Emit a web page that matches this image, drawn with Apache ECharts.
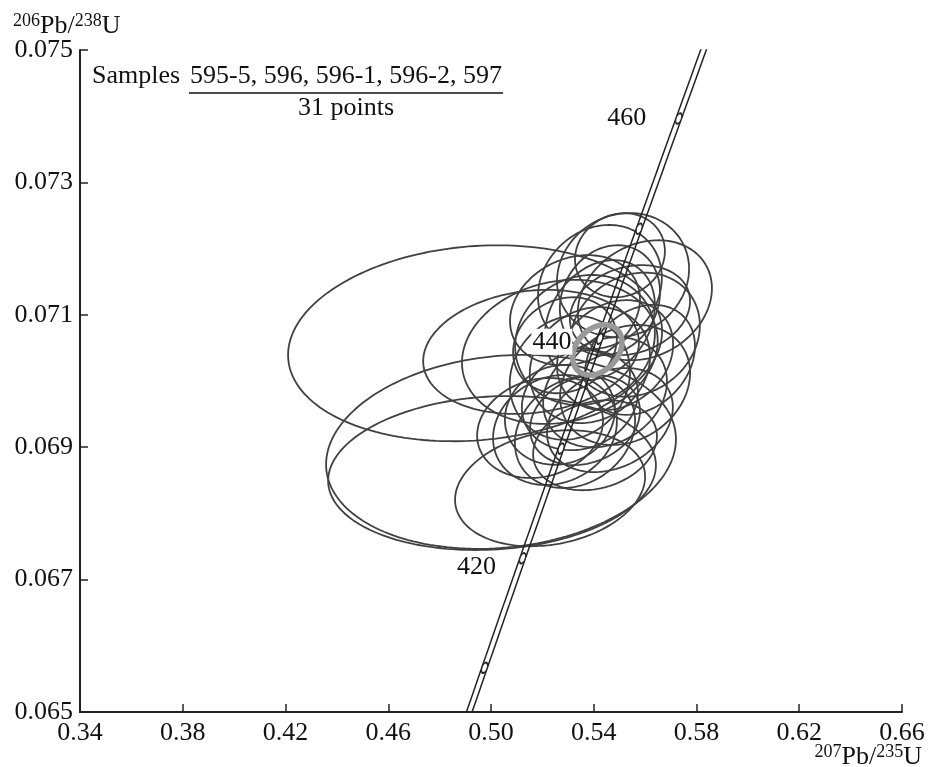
<!DOCTYPE html>
<html><head><meta charset="utf-8">
<script src="https://cdn.jsdelivr.net/npm/echarts@6/dist/echarts.min.js"></script>
<style>html,body{margin:0;padding:0;background:#fff}#c{width:928px;height:767px}</style>
</head><body><div id="c"></div>
<script>
// axis ranges / ticks
const xMin = 0.34, xMax = 0.66, xStep = 0.04;
const yMin = 0.065, yMax = 0.075, yStep = 0.002;
// decay constants (1/yr) and concordia ages (Ma)
const lambda238 = 1.55125e-10, lambda235 = 9.8485e-10;
const concordiaAgeRange = [400, 470];
const markerAges = [410, 420, 430, 440, 450, 460];
const labelledAges = [420, 440, 460];
const bandHalfWidth = 0.0011;
// error ellipses: centre 207Pb/235U, centre 206Pb/238U, half-width, half-height, correlation
const ellX  = [0.4938,0.5039,0.5004,0.5156,0.5268,0.5230,0.5514,0.5424,0.5599,0.5560,0.5522,0.5463,0.5444,0.5249,0.5327,0.5268,0.5366,0.5327,0.5385,0.5424,0.5307,0.5483,0.5346,0.5405,0.5288,0.5463,0.5541,0.5191,0.5502,0.5366,0.5580];
const ellY  = [0.07057,0.06893,0.06861,0.07044,0.07044,0.06838,0.07160,0.07142,0.07122,0.07070,0.06994,0.06941,0.06983,0.06926,0.06923,0.06949,0.07062,0.07107,0.07024,0.07092,0.07005,0.07039,0.06971,0.06903,0.07054,0.07122,0.07107,0.06929,0.07190,0.06941,0.07032];
const ellSX = [0.0728,0.0681,0.0638,0.0420,0.0381,0.0370,0.0257,0.0241,0.0261,0.0253,0.0253,0.0245,0.0241,0.0241,0.0234,0.0214,0.0272,0.0253,0.0234,0.0214,0.0234,0.0226,0.0226,0.0241,0.0202,0.0195,0.0234,0.0245,0.0175,0.0214,0.0214];
const ellSY = [0.00148,0.001465,0.001163,0.000937,0.001088,0.000876,0.000937,0.000937,0.000906,0.000937,0.000906,0.000786,0.000831,0.000831,0.000846,0.000755,0.000982,0.000831,0.000876,0.000906,0.000937,0.000831,0.000755,0.00068,0.000725,0.000831,0.00068,0.000755,0.000634,0.00068,0.000831];
const ellRho = [0.12,0.13,0.10,0.15,0.15,0.20,0.10,0.15,0.20,0.15,0.20,0.25,0.20,0.15,0.20,0.10,0.10,0.20,0.15,0.25,0.10,0.20,0.15,0.20,0.15,0.15,0.20,0.15,0.10,0.20,0.25];
// concordia age ellipse
const concX = 0.5414, concY = 0.07047, concSX = 0.0096, concSY = 0.00038, concRho = 0.3;
// texts
const yTitle = ['206','Pb/','238','U'];
const xTitle = ['207','Pb/','235','U'];
const noteLead = 'Samples';
const noteNum = '595-5, 596, 596-1, 596-2, 597';
const noteDen = '31 points';

function ellipsePts(cx, cy, sx, sy, rho) {
  const pts = [], n = 180, s = Math.sqrt(1 - rho * rho);
  for (let i = 0; i <= n; i++) {
    const t = 2 * Math.PI * i / n;
    pts.push([cx + sx * Math.cos(t), cy + sy * (rho * Math.cos(t) + s * Math.sin(t))]);
  }
  return pts;
}
function concordia(age) {
  const t = age * 1e6;
  return [Math.exp(lambda235 * t) - 1, Math.exp(lambda238 * t) - 1];
}
const FONT = "'Liberation Serif','Times New Roman',serif";
const FS = 26;
const series = [];
for (let i = 0; i < ellX.length; i++) {
  series.push({type:'line', data: ellipsePts(ellX[i], ellY[i], ellSX[i], ellSY[i], ellRho[i]),
    showSymbol:false, symbol:'none', silent:true, z:2,
    lineStyle:{color:'#404040', width:1.8}});
}
const cPts = [];
for (let a = concordiaAgeRange[0]; a <= concordiaAgeRange[1]; a += 0.5) cPts.push(concordia(a));
[-1, 1].forEach(sg => series.push({type:'line', symbol:'none', z:3, silent:true,
  data: cPts.map(p => [p[0] + sg * bandHalfWidth, p[1]]),
  lineStyle:{color:'#222', width:1.5}}));
series.push({type:'line', data: ellipsePts(concX, concY, concSX, concSY, concRho), symbol:'none', z:4,
  silent:true, lineStyle:{color:'#999', width:5.5}});
series.push({type:'scatter', z:5, symbol:'circle', symbolSize:[5,11], symbolRotate:-20, silent:true,
  itemStyle:{color:'#fff', borderColor:'#222', borderWidth:1.4, opacity:1},
  data: markerAges.map(a => concordia(a))});
series.push({type:'scatter', z:6, symbolSize:1, silent:true,
  itemStyle:{opacity:1, color:'rgba(0,0,0,0)'},
  data: labelledAges.map(a => ({value: concordia(a),
    label:{show:true, position:'inside', offset: a === 420 ? [-46, 9] : (a === 440 ? [-48, 3] : [-52, 0]),
      formatter: String(a), fontFamily: FONT, fontSize: FS, color:'#111',
      backgroundColor: a === 440 ? '#fff' : 'transparent', padding:[0,1]}}))
});

const chart = echarts.init(document.getElementById('c'), null, {renderer:'canvas'});
chart.setOption({
  animation:false,
  backgroundColor:'#fff',
  grid:{left:80, right:26, top:50, bottom:55},
  xAxis:{type:'value', min:xMin, max:xMax, interval:xStep,
    axisLine:{lineStyle:{color:'#222', width:2}},
    axisTick:{inside:true, length:8, lineStyle:{color:'#222', width:1.5}},
    splitLine:{show:false},
    axisLabel:{margin:8, fontFamily:FONT, fontSize:FS, color:'#111', formatter:v => v.toFixed(2)}},
  yAxis:{type:'value', min:yMin, max:yMax, interval:yStep,
    axisLine:{lineStyle:{color:'#222', width:2}},
    axisTick:{inside:true, length:8, lineStyle:{color:'#222', width:1.5}},
    splitLine:{show:false},
    axisLabel:{margin:7, fontFamily:FONT, fontSize:FS, color:'#111', formatter:v => v.toFixed(3)}},
  graphic:[
    {type:'text', left:13, top:12, style:{fontFamily:FONT, fill:'#111',
      text:'{s|'+yTitle[0]+'}{m|'+yTitle[1]+'}{s|'+yTitle[2]+'}{m|'+yTitle[3]+'}',
      rich:{s:{fontSize:18, fontFamily:FONT, fill:'#111', padding:[0,0,10,0]}, m:{fontSize:FS, fontFamily:FONT, fill:'#111'}}}},
    {type:'text', right:6, top:743, style:{fontFamily:FONT, fill:'#111',
      text:'{s|'+xTitle[0]+'}{m|'+xTitle[1]+'}{s|'+xTitle[2]+'}{m|'+xTitle[3]+'}',
      rich:{s:{fontSize:18, fontFamily:FONT, fill:'#111', padding:[0,0,10,0]}, m:{fontSize:FS, fontFamily:FONT, fill:'#111'}}}},
    {type:'text', left:92, top:63, style:{text:noteLead, fontFamily:FONT, fontSize:FS, fill:'#111'}},
    {type:'text', left:190, top:63, style:{text:noteNum, fontFamily:FONT, fontSize:FS, fill:'#111'}},
    {type:'line', shape:{x1:189, y1:93, x2:503, y2:93}, style:{stroke:'#111', lineWidth:1.5}},
    {type:'text', x:346, y:95, style:{text:noteDen, fontFamily:FONT, fontSize:FS, fill:'#111', align:'center'}}
  ],
  series: series
});
</script></body></html>
